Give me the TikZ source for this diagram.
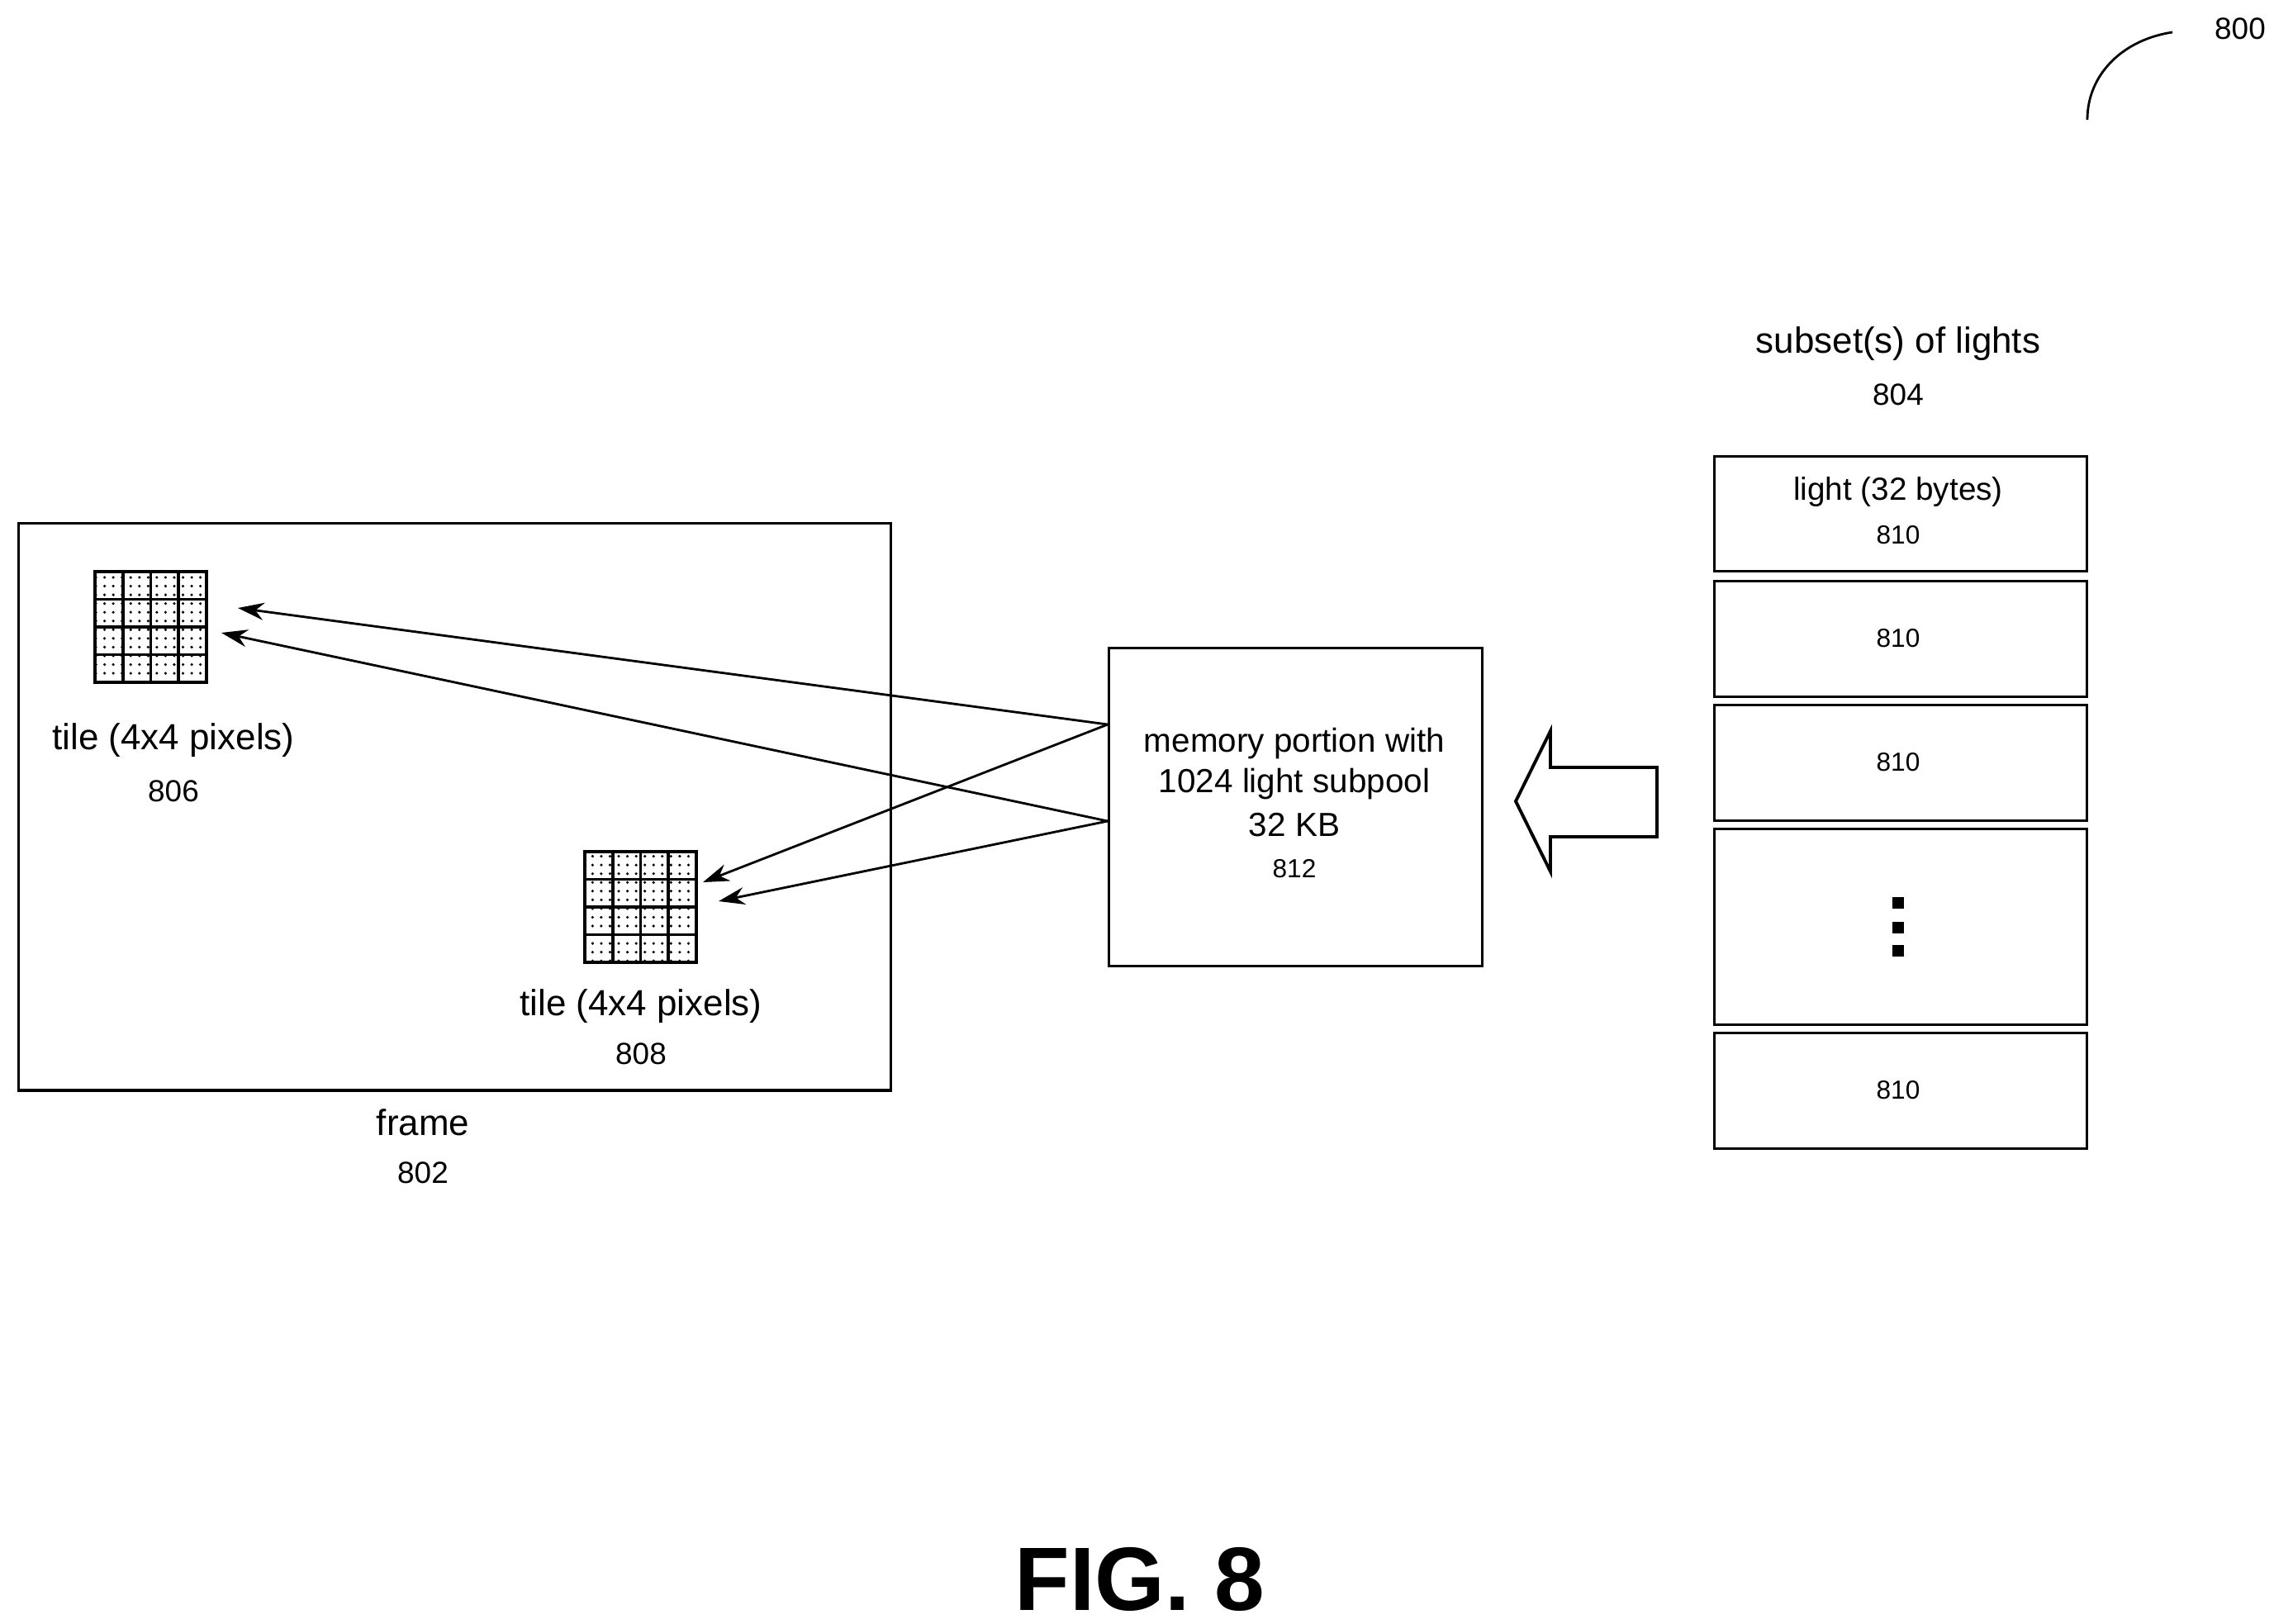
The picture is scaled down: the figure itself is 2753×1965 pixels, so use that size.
\documentclass[tikz,border=0pt]{standalone}
\usepackage{fontspec}
\setmainfont{Liberation Sans}
\usetikzlibrary{patterns,arrows.meta}
\begin{document}
\begin{tikzpicture}[x=0.01cm,y=-0.01cm,line width=0.9pt,
  box/.style={draw,rectangle,anchor=north west,inner sep=0},
  lbl/.style={font=\fontsize{12.5}{15}\selectfont,inner sep=0},
  num/.style={font=\fontsize{10.5}{12}\selectfont,inner sep=0},
  small/.style={font=\fontsize{9}{11}\selectfont,inner sep=0},
  arr/.style={-{Stealth[length=9pt,width=6pt]},line width=0.8pt}]
\useasboundingbox (0,0) rectangle (2753,1965);
% frame
\node[box,minimum width=10.55cm,minimum height=6.86cm] (frame) at (21,632) {};
\node[lbl] (framel) at (512,1359) {frame};
\node[num] (framen) at (512,1420) {802};
% tiles
\foreach \n/\x/\y in {t1/115/692,t2/708/1031}{
  \fill[pattern=dots] (\x,\y) rectangle ++(135,134);
  \foreach \i in {1,2,3}{
    \draw[line width=1.1pt] (\x+\i*33.75,\y) -- ++(0,134);
    \draw[line width=1.1pt] (\x,\y+\i*33.5) -- ++(135,0);
  }
  \draw[line width=1.1pt] (\x,\y) rectangle ++(135,134);
  \coordinate (\n) at (\x,\y);
}
\node[lbl] (t1l) at (210,896) {tile (4x4 pixels)};
\node[num] (t1n) at (210,958) {806};
\node[lbl] (t2l) at (776,1218) {tile (4x4 pixels)};
\node[num] (t2n) at (776,1276) {808};
% memory box
\node[box,minimum width=4.52cm,minimum height=3.85cm] (mem) at (1341,783) {};
\node[lbl,font=\fontsize{11.5}{14}\selectfont] (m1) at (1567,900) {memory portion with};
\node[lbl,font=\fontsize{11.5}{14}\selectfont] (m2) at (1567,949) {1024 light subpool};
\node[lbl,font=\fontsize{11.5}{14}\selectfont] (m3) at (1567,999) {32 KB};
\node[small] (m4) at (1567,1052) {812};
\coordinate (ma) at (1341,877);
\coordinate (mb) at (1341,994);
\coordinate (a1) at (288,736);
\coordinate (a2) at (268,766);
\coordinate (a3) at (851,1068);
\coordinate (a4) at (870,1091);
\draw[arr] (ma) -- (a1);
\draw[arr] (mb) -- (a2);
\draw[arr] (ma) -- (a3);
\draw[arr] (mb) -- (a4);
% big arrow
\draw[line width=1.1pt,line join=miter] (1835,970) -- (1877,885) -- (1877,929) -- (2006,929) -- (2006,1013) -- (1877,1013) -- (1877,1055) -- cycle;
% lights
\node[lbl] (st) at (2298,416) {subset(s) of lights};
\node[num] (stn) at (2298,478) {804};
\node[box,minimum width=4.51cm,minimum height=1.39cm] (L1) at (2074,551) {};
\node[box,minimum width=4.51cm,minimum height=1.40cm] (L2) at (2074,702) {};
\node[box,minimum width=4.51cm,minimum height=1.40cm] (L3) at (2074,852) {};
\node[box,minimum width=4.51cm,minimum height=2.37cm] (L4) at (2074,1002) {};
\node[box,minimum width=4.51cm,minimum height=1.40cm] (L5) at (2074,1249) {};
\node[lbl,font=\fontsize{11}{13}\selectfont] (L1t) at (2298,595) {light (32 bytes)};
\node[small] (L1n) at (2298,648) {810};
\node[small] (L2n) at (2298,773) {810};
\node[small] (L3n) at (2298,923) {810};
\node[small] (L5n) at (2298,1320) {810};
\foreach \yy in {1093,1123,1151}{\fill (2291,\yy-7) rectangle ++(14,14);}
% 800
\node[num] (f800) at (2712,35) {800};
\draw[line width=0.8pt] (2527,145) .. controls (2527,90) and (2570,48) .. (2630,39);
\node[font=\bfseries\fontsize{31}{36}\selectfont,inner sep=0] (fig) at (1380,1912) {FIG. 8};
\end{tikzpicture}
\end{document}
